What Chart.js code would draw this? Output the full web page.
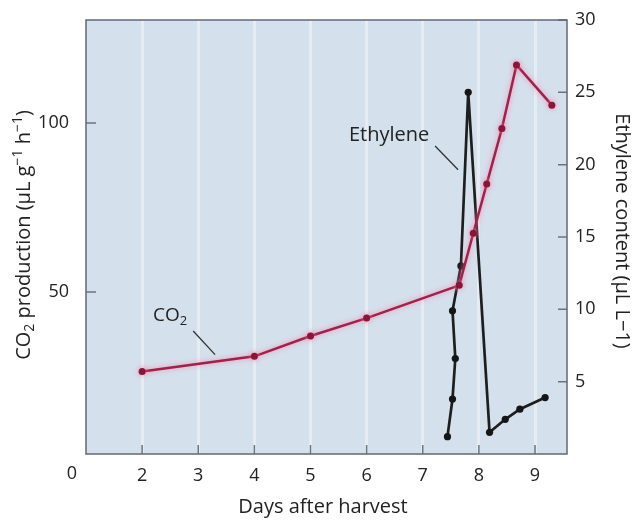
<html>
<head>
  <title>CO2 and ethylene after harvest</title>
  <script src="https://cdn.jsdelivr.net/npm/chart.js"></script>
  <style>
    body { margin: 0; background: #fff; }
    #wrap { width: 634px; height: 521px; }
  </style>
</head>
<body>
  <div id="wrap"><canvas id="ripening"></canvas></div>
  <script>
    // days after harvest and readings
    const co2Days = [2, 4, 5, 6, 7.65, 7.9, 8.14, 8.41, 8.67, 9.3];
    const co2Values = [26.5, 31, 37, 42.3, 52, 67.4, 82, 98.4, 117.2, 105.3];
    const ethDays = [7.44, 7.53, 7.58, 7.53, 7.68, 7.81, 8.19, 8.47, 8.73, 9.18];
    const ethValues = [1.2, 3.8, 6.6, 9.9, 13, 25, 1.5, 2.4, 3.1, 3.9];

    const xTicks = [2, 3, 4, 5, 6, 7, 8, 9];
    const co2Ticks = [50, 100];
    const ethTicks = [5, 10, 15, 20, 25, 30];

    const FONT = '"Open Sans", "Noto Sans", sans-serif';
    const INK = '#222';

    // draw a string made of normal / sub / sup pieces, centred on (x, y)
    function drawRich(ctx, parts, x, y, size) {
      const small = Math.round(size * 0.68);
      let total = 0;
      parts.forEach(p => {
        ctx.font = (p.sub || p.sup ? small : size) + 'px ' + FONT;
        p.w = ctx.measureText(p.t).width;
        total += p.w;
      });
      let cx = x - total / 2;
      ctx.textAlign = 'left';
      ctx.textBaseline = 'middle';
      parts.forEach(p => {
        ctx.font = (p.sub || p.sup ? small : size) + 'px ' + FONT;
        const dy = p.sub ? size * 0.3 : (p.sup ? -size * 0.3 : 0);
        ctx.fillText(p.t, cx, y + dy);
        cx += p.w;
      });
    }

    // keep tick labels from pushing the plot edges around
    function fixSize(prop, size) {
      return s => {
        s[prop] = size;
        s.paddingTop = 0;
        s.paddingBottom = 0;
        s.paddingLeft = 0;
        s.paddingRight = 0;
      };
    }

    const plotDecor = {
      id: 'plotDecor',
      beforeDraw(chart) {
        const { ctx, chartArea: a } = chart;
        ctx.save();
        ctx.fillStyle = '#d4e0ec';
        ctx.fillRect(a.left, a.top, a.right - a.left, a.bottom - a.top);
        ctx.restore();
      },
      beforeDatasetsDraw(chart) {
        const { ctx, chartArea: a, scales } = chart;
        ctx.save();
        ctx.strokeStyle = '#6a747e';
        ctx.lineWidth = 1.5;
        ctx.beginPath();
        // inward tick marks
        xTicks.forEach(v => {
          const px = scales.x.getPixelForValue(v);
          ctx.moveTo(px, a.bottom);
          ctx.lineTo(px, a.bottom - 9);
        });
        co2Ticks.forEach(v => {
          const py = scales.y.getPixelForValue(v);
          ctx.moveTo(a.left, py);
          ctx.lineTo(a.left + 10, py);
        });
        ethTicks.forEach(v => {
          const py = scales.y2.getPixelForValue(v);
          ctx.moveTo(a.right, py);
          ctx.lineTo(a.right - 9, py);
        });
        ctx.stroke();
        ctx.restore();
      },
      beforeDatasetDraw(chart, args) {
        if (args.index !== 0) return;
        const ctx = chart.ctx;
        ctx.save();
        ctx.shadowColor = 'rgba(245, 130, 170, 0.9)';
        ctx.shadowBlur = 5;
      },
      afterDatasetDraw(chart, args) {
        if (args.index !== 0) return;
        chart.ctx.restore();
      },
      afterDraw(chart) {
        const { ctx, chartArea: a, scales } = chart;
        const X = v => scales.x.getPixelForValue(v);
        const Y = v => scales.y.getPixelForValue(v);
        ctx.save();
        ctx.strokeStyle = '#5f6a74';
        ctx.lineWidth = 1.5;
        ctx.strokeRect(a.left, a.top, a.right - a.left, a.bottom - a.top);

        ctx.fillStyle = INK;
        // series labels with leader lines
        drawRich(ctx, [{ t: 'Ethylene' }], X(6.4), Y(96.5), 20);
        drawRich(ctx, [{ t: 'CO' }, { t: '2', sub: true }], X(2.5), Y(43), 19);
        ctx.strokeStyle = '#333';
        ctx.lineWidth = 1.3;
        ctx.beginPath();
        ctx.moveTo(X(7.22), Y(93.2));
        ctx.lineTo(X(7.63), Y(86.2));
        ctx.moveTo(X(2.91), Y(38.5));
        ctx.lineTo(X(3.3), Y(31.5));
        ctx.stroke();

        // shared origin label
        drawRich(ctx, [{ t: '0' }], 72, 474, 18);

        // axis titles
        drawRich(ctx, [{ t: 'Days after harvest' }], 323, 507, 20);

        ctx.save();
        ctx.translate(24, 235);
        ctx.rotate(-Math.PI / 2);
        drawRich(ctx, [
          { t: 'CO' }, { t: '2', sub: true }, { t: ' production (μL g' },
          { t: '−1', sup: true }, { t: ' h' }, { t: '−1', sup: true }, { t: ')' }
        ], 0, 0, 20);
        ctx.restore();

        ctx.save();
        ctx.translate(622, 231);
        ctx.rotate(Math.PI / 2);
        drawRich(ctx, [{ t: 'Ethylene content (μL L−1)' }], 0, 0, 20);
        ctx.restore();
        ctx.restore();
      }
    };

    const tickFont = { family: FONT, size: 18 };

    new Chart(document.getElementById('ripening'), {
      type: 'scatter',
      data: {
        datasets: [{
          label: 'CO2',
          data: co2Days.map((d, i) => ({ x: d, y: co2Values[i] })),
          yAxisID: 'y',
          showLine: true,
          borderColor: '#a3204a',
          borderWidth: 2.5,
          pointRadius: 3.5,
          pointBackgroundColor: '#8a1538',
          pointBorderColor: '#8a1538',
          pointBorderWidth: 0
        }, {
          label: 'Ethylene',
          data: ethDays.map((d, i) => ({ x: d, y: ethValues[i] })),
          yAxisID: 'y2',
          showLine: true,
          borderColor: '#1e1e1e',
          borderWidth: 2.7,
          pointRadius: 3.6,
          pointBackgroundColor: '#151515',
          pointBorderColor: '#151515',
          pointBorderWidth: 0
        }]
      },
      options: {
        responsive: true,
        maintainAspectRatio: false,
        animation: false,
        layout: { padding: { top: 20, left: 0, right: 0, bottom: 0 } },
        plugins: {
          legend: { display: false },
          tooltip: { enabled: false }
        },
        scales: {
          x: {
            type: 'linear',
            min: 1,
            max: 9.57,
            afterBuildTicks: s => { s.ticks = xTicks.map(v => ({ value: v })); },
            afterFit: fixSize('height', 67),
            ticks: { font: tickFont, color: INK, padding: 11, autoSkip: false, maxRotation: 0 },
            grid: { color: 'rgba(255,255,255,0.4)', lineWidth: 3, drawTicks: false },
            border: { display: false }
          },
          y: {
            position: 'left',
            min: 2.1,
            max: 130.5,
            afterBuildTicks: s => { s.ticks = co2Ticks.map(v => ({ value: v })); },
            afterFit: fixSize('width', 86),
            ticks: { font: tickFont, color: INK, padding: 17 },
            grid: { display: false, drawTicks: false },
            border: { display: false }
          },
          y2: {
            position: 'right',
            min: 0,
            max: 30,
            afterBuildTicks: s => { s.ticks = ethTicks.map(v => ({ value: v })); },
            afterFit: fixSize('width', 67),
            ticks: { font: tickFont, color: INK, padding: 8 },
            grid: { display: false, drawTicks: false },
            border: { display: false }
          }
        }
      },
      plugins: [plotDecor]
    });
  </script>
</body>
</html>
